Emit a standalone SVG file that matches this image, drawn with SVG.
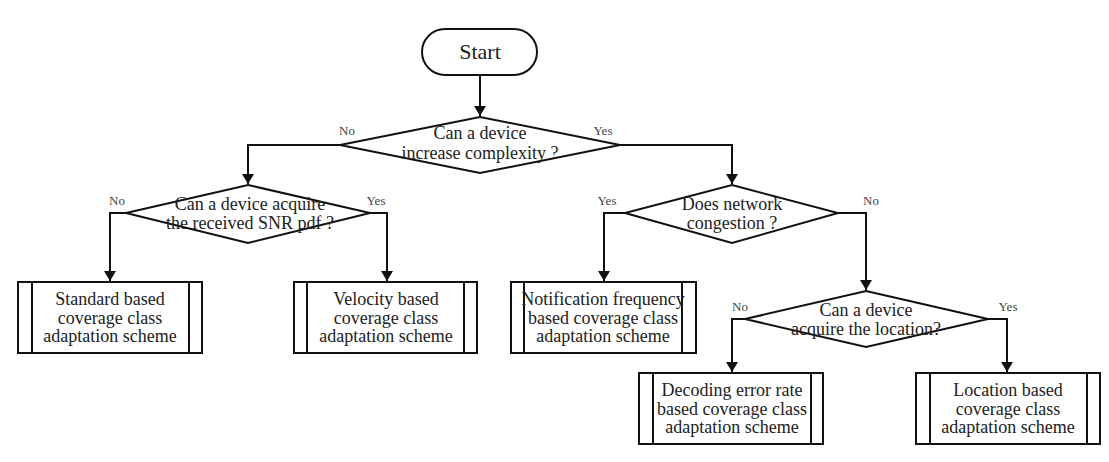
<svg xmlns="http://www.w3.org/2000/svg" width="1109" height="462" viewBox="0 0 1109 462">
<style>
.s{fill:#fff;stroke:#111;stroke-width:2}
.t{font-family:"Liberation Serif","Times New Roman",serif;font-size:18px;fill:#222;text-anchor:middle}
.st{font-size:22px}
.l{font-family:"Liberation Serif","Times New Roman",serif;font-size:13px;fill:#444;text-anchor:middle}
.c{fill:none;stroke:#111;stroke-width:2}
</style>
<defs>
<marker id="a" markerWidth="10" markerHeight="12" refX="10" refY="6" orient="auto" markerUnits="userSpaceOnUse" viewBox="0 0 10 12">
<path d="M0,0 L10,6 L0,12 Z" fill="#111"/>
</marker>
</defs>
<rect width="1109" height="462" fill="#fff"/>
<g id="connectors">
<path class="c" d="M480,75 V116" marker-end="url(#a)"/>
<path class="c" d="M340,145 H248 V184" marker-end="url(#a)"/>
<path class="c" d="M620,145 H732 V184" marker-end="url(#a)"/>
<path class="c" d="M126,213 H110 V281" marker-end="url(#a)"/>
<path class="c" d="M370,213 H387 V281" marker-end="url(#a)"/>
<path class="c" d="M625,213 H604 V281" marker-end="url(#a)"/>
<path class="c" d="M838,213 H866 V290" marker-end="url(#a)"/>
<path class="c" d="M745,319 H732 V372" marker-end="url(#a)"/>
<path class="c" d="M988,319 H1007 V372" marker-end="url(#a)"/>
<text class="l" x="347" y="135">No</text>
<text class="l" x="603" y="135">Yes</text>
<text class="l" x="117" y="205">No</text>
<text class="l" x="376" y="205">Yes</text>
<text class="l" x="607" y="205">Yes</text>
<text class="l" x="871" y="205">No</text>
<text class="l" x="740" y="311">No</text>
<text class="l" x="1008" y="311">Yes</text>
</g>
<g id="start">
<rect class="s" x="422" y="29" width="115" height="46" rx="23"/>
<text class="t st" x="480" y="59">Start</text>
</g>
<g id="d1">
<polygon class="s" points="480,117 620,145 480,173 340,145"/>
<text class="t" x="480" y="139">Can a device</text>
<text class="t" x="480" y="159">increase complexity ?</text>
</g>
<g id="d2">
<polygon class="s" points="248,185 370,213 248,243 126,213"/>
<text class="t" x="250" y="210">Can a device acquire</text>
<text class="t" x="250" y="229">the received SNR pdf ?</text>
</g>
<g id="d3">
<polygon class="s" points="732,185 838,213 732,243 625,213"/>
<text class="t" x="732" y="210">Does network</text>
<text class="t" x="732" y="229">congestion ?</text>
</g>
<g id="d4">
<polygon class="s" points="866,291 988,319 866,347 745,319"/>
<text class="t" x="866" y="316">Can a device</text>
<text class="t" x="866" y="335">acquire the location?</text>
</g>
<g id="b1">
<rect class="s" x="18" y="282" width="184" height="71"/>
<path class="c" d="M32,282 V353 M189,282 V353"/>
<text class="t" x="110" y="305">Standard based</text>
<text class="t" x="110" y="324">coverage class</text>
<text class="t" x="110" y="342">adaptation scheme</text>
</g>
<g id="b2">
<rect class="s" x="294" y="282" width="183" height="71"/>
<path class="c" d="M307,282 V353 M464,282 V353"/>
<text class="t" x="386" y="305">Velocity based</text>
<text class="t" x="386" y="324">coverage class</text>
<text class="t" x="386" y="342">adaptation scheme</text>
</g>
<g id="b3">
<rect class="s" x="511" y="282" width="185" height="71"/>
<path class="c" d="M524,282 V353 M682,282 V353"/>
<text class="t" x="603" y="305">Notification frequency</text>
<text class="t" x="603" y="324">based coverage class</text>
<text class="t" x="603" y="342">adaptation scheme</text>
</g>
<g id="b4">
<rect class="s" x="639" y="373" width="184" height="71"/>
<path class="c" d="M653,373 V444 M811,373 V444"/>
<text class="t" x="732" y="396">Decoding error rate</text>
<text class="t" x="732" y="415">based coverage class</text>
<text class="t" x="732" y="433">adaptation scheme</text>
</g>
<g id="b5">
<rect class="s" x="916" y="373" width="184" height="71"/>
<path class="c" d="M930,373 V444 M1087,373 V444"/>
<text class="t" x="1008" y="396">Location based</text>
<text class="t" x="1008" y="415">coverage class</text>
<text class="t" x="1008" y="433">adaptation scheme</text>
</g>
</svg>
